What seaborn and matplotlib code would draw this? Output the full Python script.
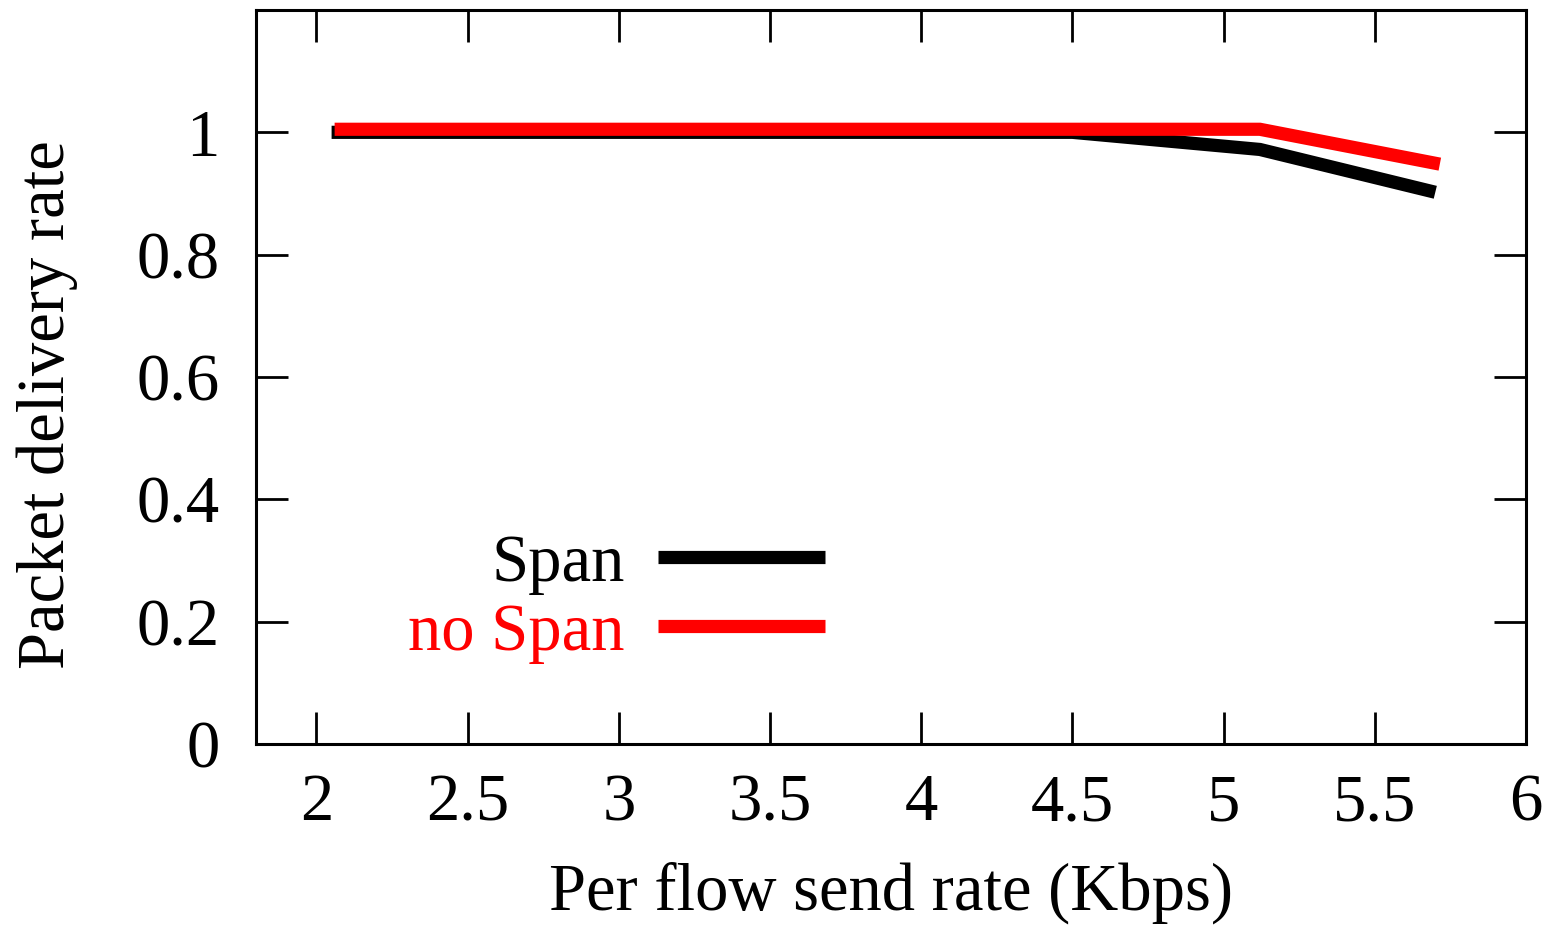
import matplotlib
matplotlib.use("Agg")
import matplotlib.pyplot as plt
import pandas as pd
import seaborn as sns

# values
span_rate = [2.05, 4.5, 5.12, 5.7]
span_pdr = [1.0, 1.0, 0.972, 0.902]
nospan_rate = [2.06, 4.5, 5.12, 5.715]
nospan_pdr = [1.005, 1.005, 1.005, 0.948]
series_names = ["Span", "no Span"]
series_colors = ["black", "red"]
x_ticks = [2, 2.5, 3, 3.5, 4, 4.5, 5, 5.5, 6]
y_ticks = [0, 0.2, 0.4, 0.6, 0.8, 1]

df = pd.concat([
    pd.DataFrame({"rate": span_rate, "pdr": span_pdr, "series": series_names[0]}),
    pd.DataFrame({"rate": nospan_rate, "pdr": nospan_pdr, "series": series_names[1]}),
])

sns.set_theme(style="white")
plt.rcParams["font.family"] = ["Liberation Serif", "DejaVu Serif"]
plt.rcParams["font.size"] = 48
plt.rcParams["text.color"] = "black"
plt.rcParams["axes.labelcolor"] = "black"

fig = plt.figure(figsize=(15.5, 9.31), dpi=100)
ax = fig.add_axes([256 / 1550, 1 - 744 / 931, 1270 / 1550, 734 / 931])

sns.lineplot(data=df, x="rate", y="pdr", hue="series", hue_order=series_names,
             palette=series_colors, linewidth=9.5, sort=False, estimator=None,
             ax=ax, legend=False)
for line in ax.get_lines():
    line.set_solid_capstyle("butt")
    line.set_solid_joinstyle("miter")

ax.set_xlim(1.8, 6)
ax.set_ylim(0, 1.2)
ax.set_xticks(x_ticks)
ax.set_xticklabels([f"{t:g}" for t in x_ticks])
ax.set_yticks(y_ticks)
ax.set_yticklabels([f"{t:g}" for t in y_ticks])
ax.tick_params(axis="both", which="major", direction="in", length=23, width=2,
               labelsize=48, colors="black", top=True, right=True,
               bottom=True, left=True)
ax.tick_params(axis="x", pad=21)
ax.tick_params(axis="y", pad=26)
for spine in ax.spines.values():
    spine.set_visible(True)
    spine.set_color("black")
    spine.set_linewidth(2.2)

ax.set_xlabel("Per flow send rate (Kbps)", fontsize=48, labelpad=20, color="black")
ax.set_ylabel("Packet delivery rate", fontsize=48, color="black")
ax.yaxis.set_label_coords(-0.14, 0.462)

handles = [plt.Line2D([], [], color=c, linewidth=9.5, solid_capstyle="butt") for c in series_colors]
leg = ax.legend(handles, series_names, markerfirst=False, frameon=False,
                loc="center right", bbox_to_anchor=(0.448, 0.198),
                handlelength=2.5, handletextpad=0.5, labelspacing=0.12,
                borderpad=0, borderaxespad=0, fontsize=48)
for text, color in zip(leg.get_texts(), series_colors):
    text.set_color(color)

fig.savefig("out.png", dpi=100)
